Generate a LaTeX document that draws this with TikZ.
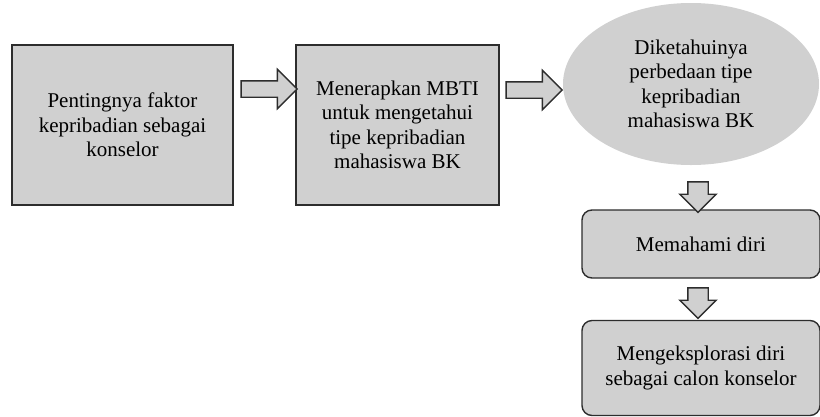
\documentclass[tikz,border=0pt]{standalone}
\usepackage{fontspec}
\setmainfont{Liberation Serif}
\usetikzlibrary{shapes.geometric,shapes.arrows}
\definecolor{boxgray}{RGB}{208,208,208}
\definecolor{edgegray}{RGB}{45,45,45}

\begin{document}
\begin{tikzpicture}[x=1pt, y=-1pt, thick]
        \tikzstyle{block} = [rectangle, draw=edgegray, line width=1.4pt, fill=boxgray, align=center, inner sep=0pt, font=\fontsize{21}{24.5}\selectfont]
        \tikzstyle{roundblock} = [block, rounded corners=10pt]
        \tikzstyle{oval} = [ellipse, fill=boxgray, align=center, inner sep=0pt, font=\fontsize{21}{24.5}\selectfont]
        \tikzstyle{blockarrow} = [single arrow, draw=edgegray, line width=1.4pt, fill=boxgray, text height=0pt, text depth=0pt, single arrow tip angle=90]
        \useasboundingbox (0,0) rectangle (820,416);
        \node[block, minimum width=221pt, minimum height=160pt] (faktor) at (122.5,125) {Pentingnya faktor\\kepribadian sebagai\\konselor};
        \node[block, minimum width=203pt, minimum height=160pt] (mbti) at (397.5,125) {Menerapkan MBTI\\untuk mengetahui\\tipe kepribadian\\mahasiswa BK};
        \node[oval, minimum width=256pt, minimum height=162pt] (perbedaan) at (691,84) {Diketahuinya\\perbedaan tipe\\kepribadian\\mahasiswa BK};
        \node[roundblock, minimum width=238pt, minimum height=68pt] (memahami) at (701,244) {Memahami diri};
        \node[roundblock, minimum width=238pt, minimum height=95pt] (eksplorasi) at (701,368) {Mengeksplorasi diri\\sebagai calon konselor};
        % block arrows between the steps
        \node[blockarrow, inner sep=7.5pt, minimum height=56pt, single arrow head extend=11.5pt] (pa) at (265,89) {};
        \node[blockarrow, inner sep=7.5pt, minimum height=56pt, single arrow head extend=11.5pt] (pb) at (530,90) {};
        \node[blockarrow, inner sep=9.5pt, minimum height=30pt, single arrow head extend=8pt, shape border rotate=270] (pc) at (698,192) {};
        \node[blockarrow, inner sep=9.5pt, minimum height=30pt, single arrow head extend=8pt, shape border rotate=270] (pd) at (698,298) {};
    \end{tikzpicture}
\end{document}
